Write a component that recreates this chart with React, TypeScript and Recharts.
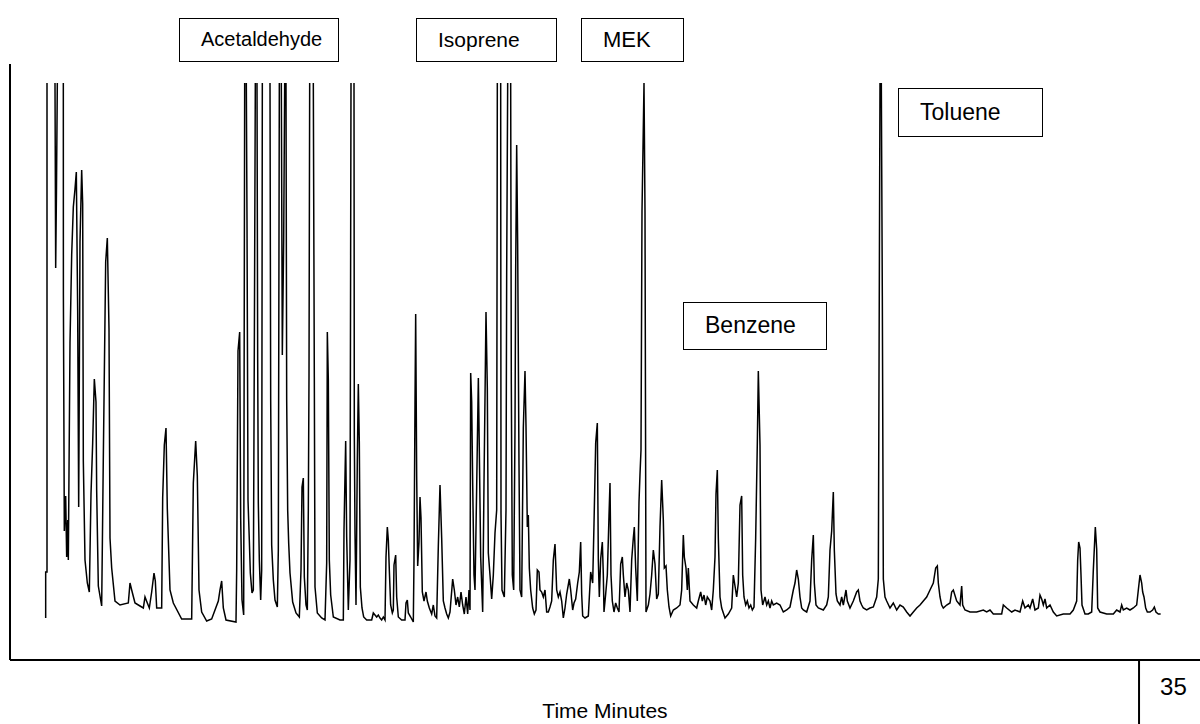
import React from "react";
import { LineChart, Line, XAxis, YAxis } from "recharts";

// detector trace, [time in minutes, response]; null = off scale (saturated)
type Pt = [number, number | null];

const earlyPeaks: Pt[] = [
  [1.106, 42], [1.106, 88], [1.147, 88], [1.147, 577], [1.27, null], [1.395, 577], [1.416, 392], [1.44, 468],
  [1.467, 577], [1.56, null], [1.653, 577], [1.655, 366], [1.684, 129], [1.726, 164], [1.757, 103], [1.79, 140],
  [1.808, 100], [1.86, 317], [1.912, 405], [1.963, 453], [2.015, 471], [2.056, 488], [2.098, 348], [2.129, 153],
  [2.17, 418], [2.222, 490], [2.253, 456], [2.273, 199], [2.325, 100], [2.397, 77], [2.459, 68], [2.511, 166],
  [2.563, 217], [2.614, 281], [2.666, 258], [2.687, 169], [2.738, 74], [2.842, 54], [2.893, 203], [2.966, 398],
  [3.017, 422], [3.069, 331], [3.1, 122], [3.152, 92], [3.255, 59], [3.41, 55], [3.668, 57], [3.72, 77],
  [3.772, 70], [3.875, 57], [4.03, 54], [4.133, 52], [4.185, 63], [4.257, 57], [4.319, 52], [4.392, 68],
  [4.464, 87], [4.505, 79], [4.547, 52], [4.702, 52], [4.733, 162], [4.784, 215], [4.836, 232], [4.877, 151],
  [4.96, 70], [5.063, 57], [5.322, 41], [5.632, 41], [5.683, 177], [5.756, 219], [5.807, 184], [5.859, 70],
  [5.942, 48], [6.097, 39], [6.252, 41], [6.355, 50], [6.458, 59], [6.51, 70], [6.562, 79], [6.613, 52],
  [6.696, 40],
];

const acetaldehydeRegion: Pt[] = [
  [7.006, 38], [7.027, 90], [7.068, 309], [7.12, 328], [7.151, 142], [7.192, 60], [7.244, 45], [7.275, 577],
  [7.3, null], [7.326, 577], [7.347, 440], [7.378, 160], [7.419, 120], [7.45, 87], [7.502, 67], [7.543, 70],
  [7.574, 311], [7.605, 577], [7.63, null], [7.657, 577], [7.678, 300], [7.698, 157], [7.729, 100], [7.771, 60],
  [7.802, 90], [7.822, 577], [7.94, null], [8.06, 577], [8.081, 261], [8.112, 115], [8.163, 80], [8.215, 60],
  [8.287, 53], [8.318, 110], [8.349, 577], [8.38, null], [8.411, 577], [8.442, 305], [8.484, 420], [8.515, 577],
  [8.535, null], [8.556, 577], [8.577, 261], [8.608, 150], [8.639, 117], [8.68, 87], [8.763, 58], [8.866, 47],
  [8.969, 43], [9.021, 90], [9.052, 173], [9.093, 182], [9.124, 83], [9.176, 55], [9.217, 50], [9.248, 150],
  [9.269, 283], [9.29, 577], [9.35, null], [9.403, 577], [9.434, 283], [9.455, 73], [9.527, 47], [9.662, 42],
  [9.765, 40], [9.817, 97], [9.837, 328], [9.868, 280], [9.899, 100], [9.941, 65], [10.023, 43], [10.23, 40],
  [10.333, 40], [10.354, 130], [10.406, 219], [10.437, 123], [10.488, 50], [10.54, 100], [10.571, 577], [10.62, null],
  [10.664, 577], [10.674, 225], [10.695, 127], [10.726, 55], [10.767, 200], [10.798, 276], [10.829, 217], [10.86, 73],
  [10.912, 52], [10.964, 43], [11.057, 40], [11.212, 40], [11.263, 47], [11.315, 45], [11.367, 43], [11.418, 45],
  [11.47, 42], [11.522, 40], [11.573, 43], [11.625, 40], [11.656, 103], [11.697, 133], [11.728, 120], [11.759, 90],
  [11.8, 55], [11.852, 47], [11.883, 50], [11.904, 95], [11.956, 105], [11.987, 63], [12.038, 43], [12.141, 40],
  [12.245, 40], [12.276, 57], [12.317, 60], [12.348, 47], [12.421, 43], [12.503, 38],
];

const isopreneRegion: Pt[] = [
  [12.524, 100], [12.555, 256], [12.576, 346], [12.607, 184], [12.638, 94], [12.679, 118], [12.71, 163], [12.741, 142],
  [12.782, 68], [12.834, 59], [12.896, 68], [12.937, 59], [12.999, 52], [13.072, 46], [13.123, 55], [13.175, 44],
  [13.227, 42], [13.278, 114], [13.33, 175], [13.382, 122], [13.433, 59], [13.485, 52], [13.537, 46], [13.588, 42],
  [13.64, 48], [13.723, 81], [13.774, 70], [13.826, 55], [13.878, 63], [13.929, 53], [13.981, 68], [14.033, 55],
  [14.084, 46], [14.136, 63], [14.188, 46], [14.229, 70], [14.26, 50], [14.281, 287], [14.312, 258], [14.343, 177],
  [14.384, 85], [14.415, 70], [14.467, 173], [14.519, 282], [14.549, 210], [14.591, 103], [14.653, 48], [14.694, 177],
  [14.756, 348], [14.797, 272], [14.828, 107], [14.88, 85], [14.932, 61], [14.983, 85], [15.035, 127], [15.087, 150],
  [15.107, 577], [15.16, null], [15.211, 577], [15.221, 147], [15.252, 70], [15.324, 63], [15.376, 150], [15.397, 388],
  [15.428, 577], [15.47, null], [15.521, 577], [15.541, 276], [15.572, 85], [15.614, 70], [15.655, 232], [15.676, 390],
  [15.707, 515], [15.738, 414], [15.779, 195], [15.81, 70], [15.862, 63], [15.913, 232], [15.965, 289], [15.996, 234],
  [16.037, 133], [16.068, 145], [16.099, 92], [16.141, 70], [16.203, 52], [16.254, 46], [16.306, 50], [16.347, 90],
  [16.399, 88], [16.43, 70], [16.482, 68], [16.533, 63], [16.585, 70], [16.637, 48], [16.688, 48], [16.74, 53],
  [16.792, 59], [16.843, 100], [16.895, 116], [16.947, 70], [16.998, 63], [17.05, 68], [17.102, 59], [17.153, 42],
  [17.205, 52], [17.257, 66], [17.339, 81], [17.381, 70], [17.443, 50], [17.484, 57], [17.536, 61], [17.598, 77],
  [17.649, 88], [17.691, 118], [17.722, 66], [17.753, 44], [17.825, 42], [17.928, 44], [18.001, 88], [18.063, 77],
  [18.104, 136], [18.156, 217], [18.207, 237],
];

const mekBenzeneRegion: Pt[] = [
  [18.238, 100], [18.269, 63], [18.311, 101], [18.362, 118], [18.393, 85], [18.414, 48], [18.466, 66], [18.517, 85],
  [18.569, 144], [18.6, 177], [18.631, 85], [18.672, 59], [18.724, 48], [18.776, 57], [18.827, 52], [18.879, 48],
  [18.931, 96], [18.982, 103], [19.013, 85], [19.065, 63], [19.117, 77], [19.168, 70], [19.22, 48], [19.272, 100],
  [19.323, 122], [19.354, 133], [19.396, 92], [19.447, 59], [19.499, 158], [19.53, 186], [19.561, 210], [19.592, 449],
  [19.623, 512], [19.654, 577], [19.685, 447], [19.716, 48], [19.788, 55], [19.84, 66], [19.892, 85], [19.943, 110],
  [19.995, 96], [20.047, 61], [20.098, 66], [20.15, 133], [20.202, 180], [20.253, 140], [20.284, 92], [20.336, 94],
  [20.377, 70], [20.429, 53], [20.481, 44], [20.563, 50], [20.667, 52], [20.77, 55], [20.822, 70], [20.873, 125],
  [20.904, 103], [20.956, 92], [20.997, 70], [21.028, 92], [21.08, 59], [21.183, 55], [21.287, 52], [21.338, 59],
  [21.411, 68], [21.462, 59], [21.514, 65], [21.566, 55], [21.617, 63], [21.7, 59], [21.752, 50], [21.803, 70],
  [21.855, 103], [21.886, 166], [21.927, 190], [21.958, 122], [22.01, 63], [22.062, 52], [22.165, 42], [22.268, 46],
  [22.372, 52], [22.423, 85], [22.475, 74], [22.527, 63], [22.578, 77], [22.63, 155], [22.682, 164], [22.713, 85],
  [22.754, 63], [22.806, 55], [22.857, 59], [22.909, 52], [22.961, 55], [23.012, 50], [23.064, 53], [23.116, 122],
  [23.167, 217], [23.198, 289], [23.25, 215], [23.281, 70], [23.333, 55], [23.405, 63], [23.457, 55], [23.508, 59],
  [23.56, 52], [23.612, 59], [23.663, 55], [23.767, 57], [23.87, 55],
];

const tolueneRegion: Pt[] = [
  [23.973, 48], [24.077, 50], [24.18, 53], [24.283, 70], [24.335, 77], [24.387, 90], [24.438, 81], [24.49, 63],
  [24.542, 52], [24.593, 50], [24.697, 48], [24.8, 59], [24.852, 100], [24.903, 125], [24.934, 77], [24.986, 55],
  [25.058, 52], [25.213, 50], [25.317, 55], [25.368, 63], [25.42, 110], [25.472, 129], [25.523, 168], [25.554, 110],
  [25.606, 66], [25.647, 59], [25.73, 55], [25.782, 63], [25.833, 55], [25.916, 70], [25.957, 59], [26.04, 52],
  [26.143, 59], [26.247, 68], [26.298, 70], [26.35, 59], [26.402, 55], [26.453, 52], [26.557, 50], [26.66, 52],
  [26.763, 53], [26.867, 63], [26.918, 81], [26.97, 577], [26.99, null], [27.011, 577], [27.042, 364], [27.073, 81],
  [27.125, 63], [27.177, 59], [27.28, 52], [27.383, 57], [27.487, 50], [27.59, 55], [27.693, 53], [27.797, 48],
  [27.9, 44], [28.003, 48], [28.107, 52], [28.21, 55], [28.313, 59], [28.417, 63], [28.52, 70], [28.623, 77],
  [28.696, 92], [28.747, 94], [28.778, 77], [28.83, 63], [28.882, 55], [28.933, 52], [29.037, 55], [29.14, 57],
  [29.192, 68], [29.243, 70], [29.347, 59], [29.45, 55],
];

const lateRegion: Pt[] = [
  [29.502, 74], [29.533, 55], [29.605, 50], [29.76, 48], [29.967, 48], [30.173, 50], [30.277, 48], [30.38, 50],
  [30.483, 46], [30.742, 46], [30.793, 55], [30.897, 52], [31.052, 48], [31.155, 50], [31.31, 48], [31.393, 59],
  [31.465, 52], [31.568, 55], [31.62, 52], [31.703, 61], [31.775, 50], [31.878, 52], [31.93, 65], [31.982, 61],
  [32.033, 55], [32.085, 61], [32.137, 52], [32.24, 55], [32.343, 48], [32.447, 44], [32.653, 46], [32.86, 46],
  [32.963, 50], [33.067, 59], [33.098, 100], [33.129, 118], [33.17, 112], [33.201, 85], [33.232, 55], [33.325, 46],
  [33.428, 46], [33.532, 48], [33.583, 90], [33.645, 133], [33.687, 111], [33.718, 52], [33.79, 48], [33.997, 46],
  [34.203, 46], [34.307, 50], [34.41, 48], [34.462, 55], [34.513, 50], [34.617, 52], [34.72, 50], [34.823, 52],
  [34.927, 55], [34.978, 70], [35.03, 85], [35.082, 77], [35.113, 68], [35.154, 63], [35.206, 52], [35.257, 48],
  [35.34, 48], [35.422, 50], [35.474, 53], [35.525, 48], [35.598, 46], [35.67, 46],
];

const timeTicks = [35];
const compoundNames = ["Acetaldehyde", "Isoprene", "MEK", "Benzene", "Toluene"];

// annotation box placement, pixels on the page
const boxLayout = [
  { left: 179, top: 18, width: 160, height: 44, fontSize: 20 },
  { left: 416, top: 18, width: 141, height: 44, fontSize: 21 },
  { left: 581, top: 18, width: 103, height: 44, fontSize: 22 },
  { left: 683, top: 302, width: 144, height: 48, fontSize: 23 },
  { left: 898, top: 88, width: 145, height: 49, fontSize: 23 },
];

const FONT = '"Liberation Sans", Arial, Helvetica, sans-serif';

const trace = [...earlyPeaks, ...acetaldehydeRegion, ...isopreneRegion, ...mekBenzeneRegion, ...tolueneRegion, ...lateRegion].map(
  ([t, v]) => ({ t, v })
);

function TimeTick(props: any) {
  const { x, y, payload } = props;
  return (
    <g>
      <line x1={x} y1={y} x2={x} y2={y + 64} stroke="#000" strokeWidth={2} />
      <text x={x + 21} y={y + 35} fill="#000" fontSize={24} fontFamily={FONT}>
        {payload.value}
      </text>
    </g>
  );
}

export default function App() {
  return (
    <div style={{ position: "absolute", left: 0, top: 0, width: 1200, height: 724, background: "#fff" }}>
      <LineChart width={1200} height={724} data={trace} margin={{ top: 64, right: 0, bottom: 0, left: 0 }}>
        <XAxis
          type="number"
          dataKey="t"
          domain={[0, 36.89]}
          ticks={timeTicks}
          interval={0}
          height={64}
          tickSize={0}
          tickMargin={0}
          tickLine={false}
          axisLine={{ stroke: "#000", strokeWidth: 2 }}
          tick={<TimeTick />}
          label={{ value: "Time Minutes", position: "insideBottom", offset: 6, fill: "#000", fontSize: 21, fontFamily: FONT }}
        />
        <YAxis
          type="number"
          domain={[0, 596]}
          width={10}
          tick={false}
          tickLine={false}
          axisLine={{ stroke: "#000", strokeWidth: 2 }}
        />
        <Line
          type="linear"
          dataKey="v"
          stroke="#000"
          strokeWidth={1.5}
          dot={false}
          connectNulls={false}
          isAnimationActive={false}
        />
      </LineChart>
      {compoundNames.map((name, i) => {
        const b = boxLayout[i];
        return (
          <div
            key={name}
            style={{
              position: "absolute",
              left: b.left,
              top: b.top,
              width: b.width,
              height: b.height,
              boxSizing: "border-box",
              border: "1.5px solid #000",
              background: "#fff",
              paddingLeft: 21,
              fontFamily: FONT,
              fontSize: b.fontSize,
              lineHeight: `${b.height - 3}px`,
              color: "#000",
              whiteSpace: "nowrap",
            }}
          >
            {name}
          </div>
        );
      })}
    </div>
  );
}
